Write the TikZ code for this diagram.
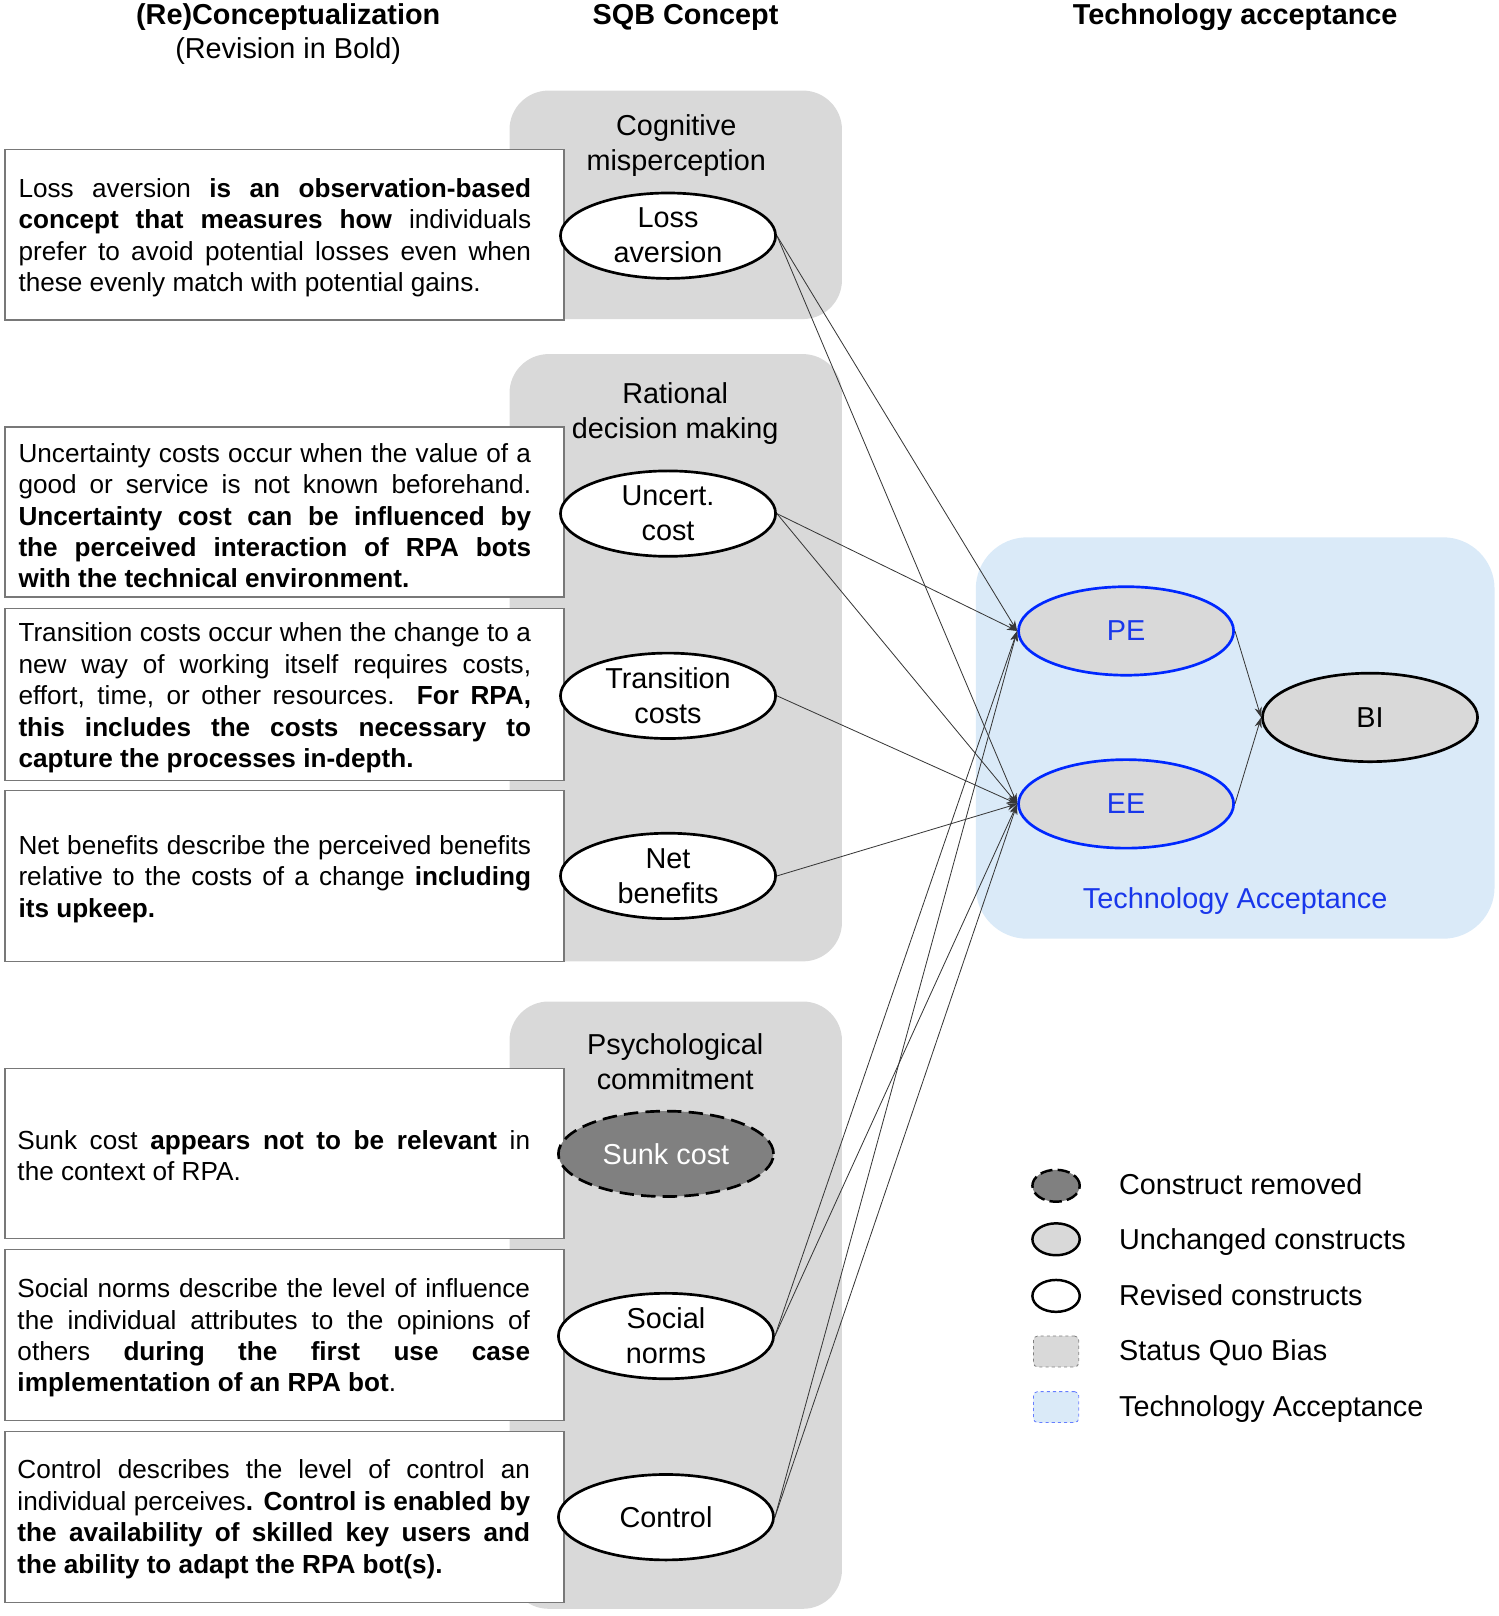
\documentclass[tikz,border=0pt]{standalone}
\usepackage{fontspec}
\setmainfont{Liberation Sans}
\usetikzlibrary{shapes.geometric,arrows.meta}
\definecolor{sqbgray}{RGB}{217,217,217}
\definecolor{darkfill}{RGB}{128,128,128}
\definecolor{tablue}{RGB}{218,234,248}
\definecolor{tastroke}{RGB}{0,40,255}
\definecolor{tatext}{RGB}{25,55,235}
\definecolor{boxborder}{RGB}{120,120,120}
\definecolor{linecol}{RGB}{55,55,55}
\begin{document}
\begin{tikzpicture}[x=1pt,y=-1pt,
  groupbox/.style={fill=sqbgray, rounded corners=38pt},
  descbox/.style={draw=boxborder, line width=1.3pt, fill=white},
  desctext/.style={text width=498pt, align=justify, inner sep=0pt, font=\fontsize{25.4}{30.5}\selectfont},
  header/.style={font=\fontsize{28}{34}\selectfont\bfseries, inner sep=0pt},
  grouplabel/.style={font=\fontsize{28}{34}\selectfont, align=center, inner sep=0pt},
  construct/.style={ellipse, draw=black, line width=2.6pt, fill=white, minimum width=209pt, minimum height=83pt, inner sep=0pt, align=center, font=\fontsize{28}{34}\selectfont},
  tacon/.style={construct, draw=tastroke, fill=sqbgray, text=tatext, minimum height=86pt},
  removed/.style={construct, fill=darkfill, text=white, dash pattern=on 14pt off 7pt},
  conn/.style={draw=linecol, line width=0.8pt, -{Stealth[length=10pt,width=7pt]}},
  legtext/.style={anchor=base west, font=\fontsize{28}{34}\selectfont, inner sep=0pt},
  legell/.style={ellipse, draw=black, line width=2.4pt, minimum width=46pt, minimum height=31pt, inner sep=0pt},
  legrect/.style={rounded corners=4pt, line width=0.8pt, dashed, minimum width=44pt, minimum height=30pt, inner sep=0pt}
]
\useasboundingbox (0,0) rectangle (1456,1570);

% headers
\node[header] (h1) at (280,17) {(Re)Conceptualization};
\node[grouplabel] (h1b) at (280,50) {(Revision in Bold)};
\node[header] (h2) at (666,17) {SQB Concept};
\node[header] (h3) at (1200,17) {Technology acceptance};

% SQB group boxes
\fill[groupbox] (495,88) rectangle (818,310);
\fill[groupbox] (495,344) rectangle (818,934);
\fill[groupbox] (495,973) rectangle (818,1563);

\node[grouplabel] (g1) at (657,141) {Cognitive\\misperception};
\node[grouplabel] (g2) at (656,402) {Rational\\decision making};
\node[grouplabel] (g3) at (656,1031) {Psychological\\commitment};

% description boxes
\draw[descbox] (5,145) rectangle (548,311);
\draw[descbox] (5,415) rectangle (548,580);
\draw[descbox] (5,591) rectangle (548,758);
\draw[descbox] (5,768) rectangle (548,934);
\draw[descbox] (5,1038) rectangle (548,1203);
\draw[descbox] (5,1214) rectangle (548,1380);
\draw[descbox] (5,1391) rectangle (548,1557);

\node[desctext] (t1) at (267,231) {\noindent Loss aversion \textbf{is an observation-based}\linebreak
\textbf{concept that measures how} individuals\linebreak
prefer to avoid potential losses even when\linebreak
these evenly match with potential gains.};

\node[desctext] (t2) at (267,501) {\noindent Uncertainty costs occur when the value of a\linebreak
good or service is not known beforehand.\linebreak
\textbf{Uncertainty cost can be influenced by\linebreak
the perceived interaction of RPA bots\linebreak
with the technical environment.}};

\node[desctext] (t3) at (267,678) {\noindent Transition costs occur when the change to a\linebreak
new way of working itself requires costs,\linebreak
effort, time, or other resources. \textbf{For RPA,\linebreak
this includes the costs necessary to\linebreak
capture the processes in-depth.}};

\node[desctext] (t4) at (267,854) {\noindent Net benefits describe the perceived benefits\linebreak
relative to the costs of a change \textbf{including\linebreak
its upkeep.}};

\node[desctext] (t5) at (266,1123) {\noindent Sunk cost \textbf{appears not to be relevant} in\linebreak
the context of RPA.};

\node[desctext] (t6) at (266,1300) {\noindent Social norms describe the level of influence\linebreak
the individual attributes to the opinions of\linebreak
others \textbf{during the first use case\linebreak
implementation of an RPA bot}.};

\node[desctext] (t7) at (266,1476) {\noindent Control describes the level of control an\linebreak
individual perceives\textbf{. Control is enabled by\linebreak
the availability of skilled key users and\linebreak
the ability to adapt the RPA bot(s).}};

% technology acceptance box
\fill[tablue, rounded corners=50pt] (948,522) rectangle (1452,912);
\node[grouplabel, text=tatext] (talabel) at (1200,875) {Technology Acceptance};

% SQB constructs
\node[construct] (la) at (649,229) {Loss\\aversion};
\node[construct] (uc) at (649,499) {Uncert.\\cost};
\node[construct] (tc) at (649,676) {Transition\\costs};
\node[construct] (nb) at (649,851) {Net\\benefits};
\node[removed] (sc) at (647,1121) {Sunk cost};
\node[construct] (sn) at (647,1298) {Social\\norms};
\node[construct] (co) at (647,1474) {Control};

% TA constructs
\node[tacon] (pe) at (1094,613) {PE};
\node[tacon] (ee) at (1094,781) {EE};
\node[construct, fill=sqbgray, minimum height=86pt] (bi) at (1331,697) {BI};

% connectors
\draw[conn] (la.east) -- (pe.west);
\draw[conn] (la.east) -- (ee.west);
\draw[conn] (uc.east) -- (pe.west);
\draw[conn] (uc.east) -- (ee.west);
\draw[conn] (tc.east) -- (ee.west);
\draw[conn] (nb.east) -- (ee.west);
\draw[conn] (sn.east) -- (pe.west);
\draw[conn] (sn.east) -- (ee.west);
\draw[conn] (co.east) -- (pe.west);
\draw[conn] (co.east) -- (ee.west);
\draw[conn] (pe.east) -- (bi.west);
\draw[conn] (ee.east) -- (bi.west);

% legend
\node[legell, fill=darkfill, dash pattern=on 12pt off 5pt] (l1) at (1026,1152) {};
\node[legell, fill=sqbgray] (l2) at (1026,1204) {};
\node[legell, fill=white] (l3) at (1026,1259) {};
\node[legrect, draw=gray, fill=sqbgray] (l4) at (1026,1313) {};
\node[legrect, draw=tastroke!60, fill=tablue] (l5) at (1026,1367) {};
\node[legtext] (lt1) at (1087,1160) {Construct removed};
\node[legtext] (lt2) at (1087,1214) {Unchanged constructs};
\node[legtext] (lt3) at (1087,1268) {Revised constructs};
\node[legtext] (lt4) at (1087,1322) {Status Quo Bias};
\node[legtext] (lt5) at (1087,1376) {Technology Acceptance};
\end{tikzpicture}
\end{document}
